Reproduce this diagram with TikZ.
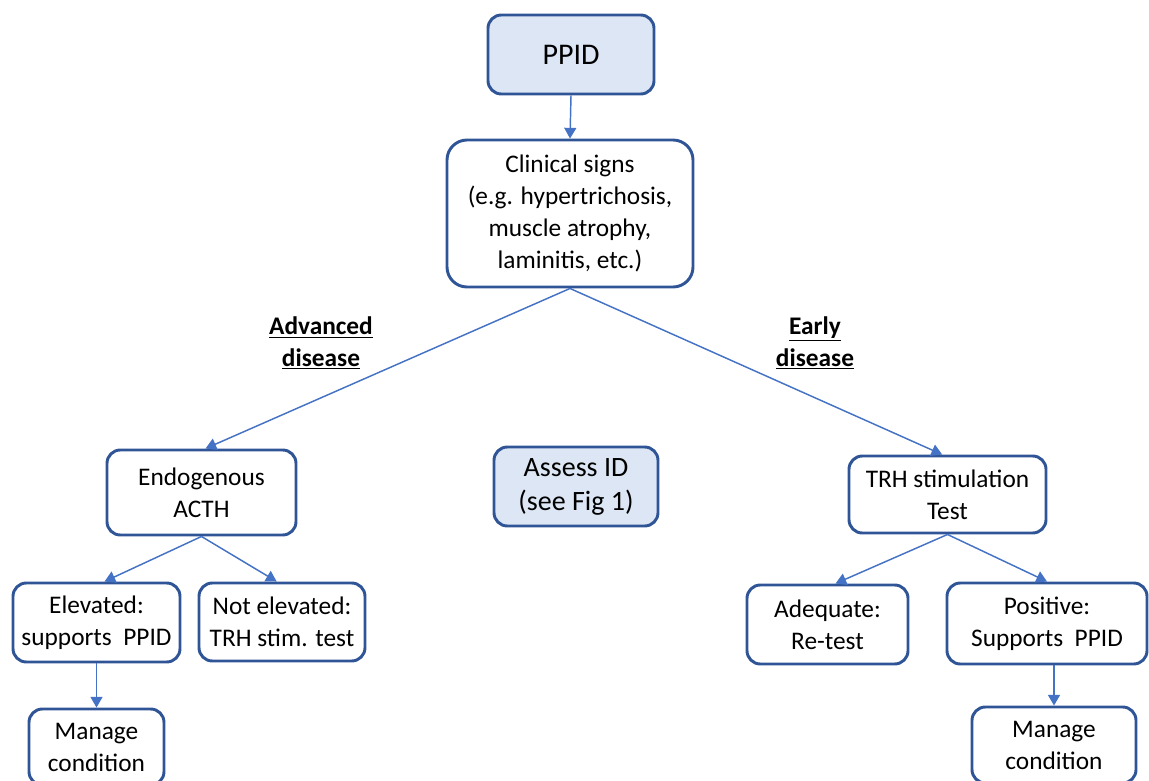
\documentclass[tikz,border=0pt]{standalone}
\usepackage{fontspec}
\setmainfont{Carlito}
\usetikzlibrary{arrows.meta,calc}
\definecolor{bordc}{HTML}{2F5597}
\definecolor{arrc}{HTML}{4472C4}
\definecolor{fillc}{HTML}{DCE6F4}
\tikzset{
  box/.style={draw=bordc, line width=2.2pt, rounded corners=10pt, align=center, inner sep=0pt,
    font=\fontsize{19}{24}\selectfont, text=black},
  bluebox/.style={box, fill=fillc},
  conn/.style={draw=arrc, line width=1.1pt, -{Triangle[width=9pt,length=8pt]}},
  lbl/.style={align=center, font=\bfseries\fontsize{19}{23.5}\selectfont}
}
\begin{document}
\begin{tikzpicture}[x=0.75pt,y=-0.75pt]
\useasboundingbox (0,0) rectangle (1149,781);
\clip (0,0) rectangle (1149,781);
\node[bluebox, minimum width=124.5pt, minimum height=59.25pt, font=\fontsize{22.5}{27}\selectfont] (ppid) at (571,54.5) {PPID};
\node[box, minimum width=184.5pt, minimum height=110.25pt, rounded corners=15pt] (clin) at (570,213.5) {Clinical signs\\(e.g. hypertrichosis,\\muscle atrophy,\\laminitis, etc.)};
\node[box, minimum width=141.75pt, minimum height=63.75pt] (endo) at (201.5,492.5) {Endogenous\\ACTH};
\node[bluebox, minimum width=123pt, minimum height=59.25pt, font=\fontsize{21}{25.5}\selectfont] (assess) at (576,486.5) {Assess ID\\(see Fig 1)};
\node[box, minimum width=147.75pt, minimum height=57.75pt] (trh) at (947.5,494.5) {TRH stimulation\\Test};
\node[box, minimum width=125.25pt, minimum height=59.25pt] (elev) at (96.5,622.5) {Elevated:\\supports\ \ PPID};
\node[box, minimum width=124.5pt, minimum height=58.5pt] (notel) at (282,622) {Not elevated:\\TRH stim. test};
\node[box, minimum width=120.75pt, minimum height=59.25pt] (adeq) at (827.5,624.5) {Adequate:\\Re-test};
\node[box, minimum width=150pt, minimum height=60.75pt] (posit) at (1047,623.5) {Positive:\\Supports\ \ PPID};
\node[box, minimum width=101.25pt, minimum height=57pt] (man1) at (96.5,747) {Manage\\condition};
\node[box, minimum width=123pt, minimum height=57pt] (man2) at (1054,745) {Manage\\condition};
\node[lbl] (adv) at (321,343) {\underline{Advanced}\\\underline{disease}};
\node[lbl] (early) at (815,343) {\underline{Early}\\\underline{disease}};
\draw[conn] (ppid.south) -- (clin.north);
\draw[conn] (clin.south) -- ([xshift=3pt]endo.north);
\draw[conn] (clin.south) -- ([xshift=-4pt]trh.north);
\draw[conn] (endo.south) -- ([xshift=6pt]elev.north);
\draw[conn] (endo.south) -- ([xshift=-4pt]notel.north);
\draw[conn] (trh.south) -- ([xshift=6pt]adeq.north);
\draw[conn] (trh.south) -- (posit.north);
\draw[conn] (elev.south) -- (man1.north);
\draw[conn] ([xshift=5.25pt]posit.south) -- (man2.north);
\end{tikzpicture}
\end{document}
